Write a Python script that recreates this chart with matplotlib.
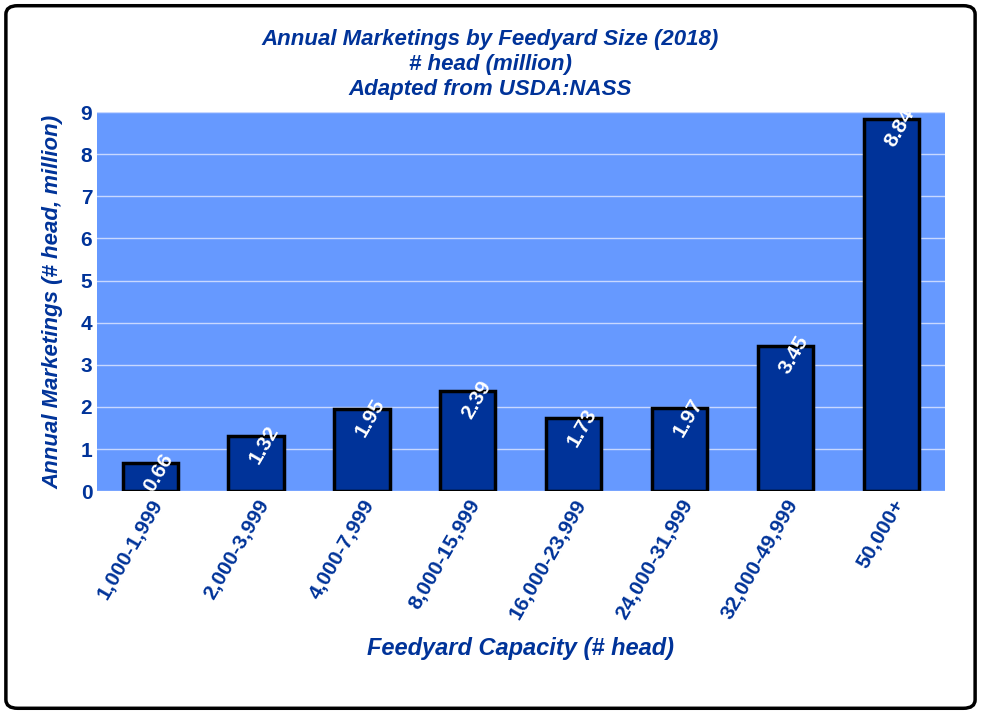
import matplotlib.pyplot as plt
from matplotlib.patches import FancyBboxPatch

categories = ['1,000-1,999', '2,000-3,999', '4,000-7,999', '8,000-15,999',
              '16,000-23,999', '24,000-31,999', '32,000-49,999', '50,000+']
values = [0.66, 1.32, 1.95, 2.39, 1.73, 1.97, 3.45, 8.84]

navy = '#003399'
plt.rcParams['font.family'] = 'Liberation Sans'

fig = plt.figure(figsize=(9.81, 7.14), dpi=100)
fig.patches.append(FancyBboxPatch((0.006, 0.008), 0.988, 0.984, boxstyle='round,pad=0,rounding_size=0.012',
                                  transform=fig.transFigure, fill=False, ec='black', lw=2.5))
ax = fig.add_axes([0.099, 0.312, 0.864, 0.531])
ax.set_facecolor('#6699FF')
x = range(len(categories))
ax.bar(x, values, width=0.52, color=navy, edgecolor='black', linewidth=2.5, zorder=3)
for i, v in zip(x, values):
    ax.text(i, v - 0.1, f'{v:.2f}', rotation=60, ha='center', va='top', color='white',
            fontsize=15, fontweight='bold', zorder=4, rotation_mode='anchor')
ax.set_ylim(0, 9)
ax.set_xlim(-0.5, len(categories) - 0.5)
ax.set_yticks(range(10))
ax.grid(axis='y', color='#c8d8ff', lw=1, zorder=0)
for s in ax.spines.values():
    s.set_visible(False)
ax.tick_params(length=0, labelsize=15, labelcolor=navy)
ax.set_xticks(list(x))
ax.set_xticklabels(categories, rotation=60, ha='right', rotation_mode='anchor', fontweight='bold')
for t in ax.get_yticklabels():
    t.set_fontweight('bold')
ax.set_ylabel('Annual Marketings (# head, million)', fontsize=16, fontweight='bold',
              fontstyle='italic', color=navy, labelpad=12)
ax.set_xlabel('Feedyard Capacity (# head)', fontsize=17, fontweight='bold',
              fontstyle='italic', color=navy, labelpad=10)
fig.text(0.5, 0.96, 'Annual Marketings by Feedyard Size (2018)\n# head (million)\nAdapted from USDA:NASS',
         ha='center', va='top', fontsize=16, fontweight='bold', fontstyle='italic', color=navy,
         linespacing=1.25)
fig.savefig('out.png', dpi=100)
